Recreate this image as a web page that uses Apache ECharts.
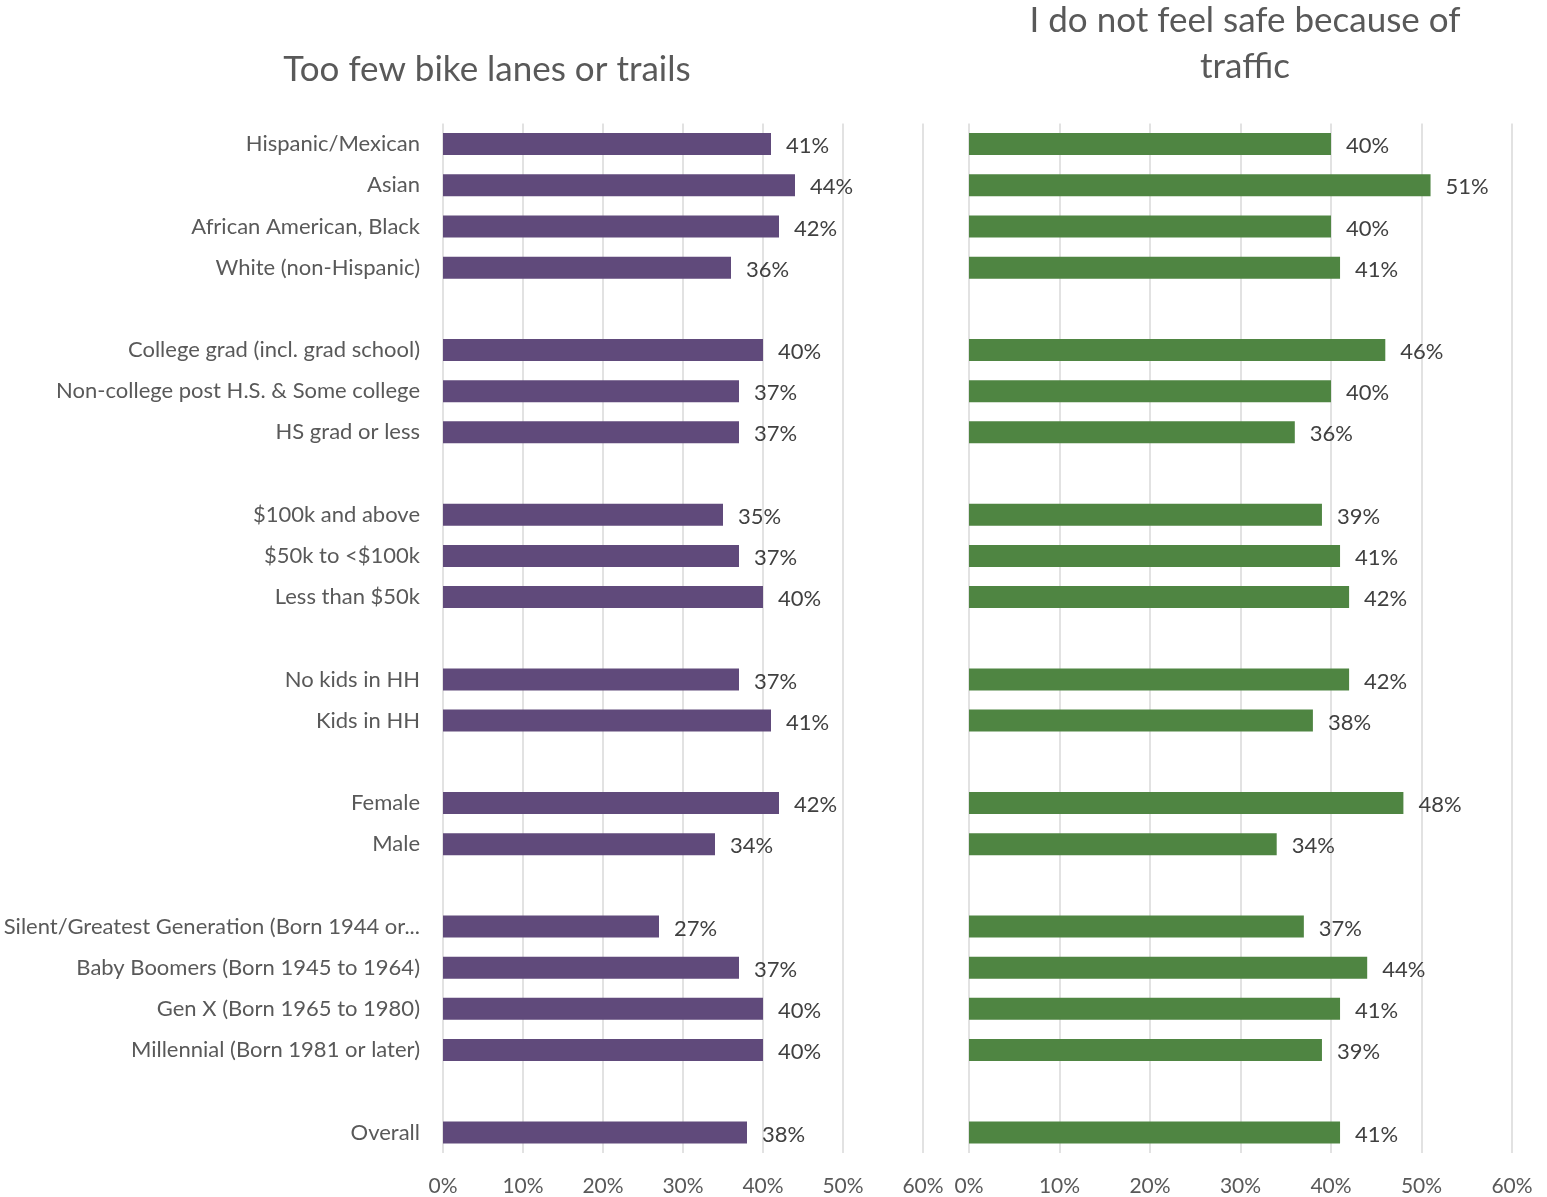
<!DOCTYPE html>
<html>
<head>
<meta charset="utf-8">
<script src="https://cdn.jsdelivr.net/npm/echarts@6/dist/echarts.min.js"></script>
<style>
  html, body { margin: 0; padding: 0; background: #ffffff; }
  #chart { width: 1547px; height: 1197px; }
</style>
</head>
<body>
<div id="chart"></div>
<script>
// Row labels (empty strings are spacer rows between groups)
const categories = [
  'Hispanic/Mexican', 'Asian', 'African American, Black', 'White (non-Hispanic)', '',
  'College grad (incl. grad school)', 'Non-college post H.S. & Some college', 'HS grad or less', '',
  '$100k and above', '$50k to <$100k', 'Less than $50k', '',
  'No kids in HH', 'Kids in HH', '',
  'Female', 'Male', '',
  'Silent/Greatest Generation (Born 1944 or...', 'Baby Boomers (Born 1945 to 1964)', 'Gen X (Born 1965 to 1980)', 'Millennial (Born 1981 or later)', '',
  'Overall'
];

// Percent of respondents citing each barrier
const tooFewBikeLanes = [41, 44, 42, 36, null, 40, 37, 37, null, 35, 37, 40, null, 37, 41, null, 42, 34, null, 27, 37, 40, 40, null, 38];
const unsafeTraffic   = [40, 51, 40, 41, null, 46, 40, 36, null, 39, 41, 42, null, 42, 38, null, 48, 34, null, 37, 44, 41, 39, null, 41];

const panelTitles = ['Too few bike lanes or trails', 'I do not feel safe because of\ntraffic'];
const xTicks = [0, 10, 20, 30, 40, 50, 60];

const FONT = 'Lato';
const TEXT = '#595959';
const LABEL = '#404040';
const GRID_LINE = '#d9d9d9';

const chart = echarts.init(document.getElementById('chart'), null, { renderer: 'canvas' });

function xAxis(gridIndex) {
  return {
    type: 'value', gridIndex,
    min: xTicks[0], max: xTicks[xTicks.length - 1], interval: 10,
    axisLine: { show: false }, axisTick: { show: false },
    splitLine: { show: true, lineStyle: { color: GRID_LINE, width: 1.5 } },
    axisLabel: { formatter: '{value}%', color: TEXT, fontFamily: FONT, fontSize: 21, margin: 23 }
  };
}

function yAxis(gridIndex, showLabels) {
  return {
    type: 'category', gridIndex, data: categories, inverse: true,
    axisLine: { show: false }, axisTick: { show: false },
    axisLabel: { show: showLabels, color: TEXT, fontFamily: FONT, fontSize: 22, margin: 23, interval: 0 }
  };
}

function barSeries(idx, values, color) {
  return {
    type: 'bar', xAxisIndex: idx, yAxisIndex: idx, data: values,
    barWidth: 22,
    itemStyle: { color },
    label: {
      show: true, position: 'right', distance: 15, offset: [0, 2],
      formatter: p => p.value == null ? '' : p.value + '%',
      color: LABEL, fontFamily: FONT, fontSize: 22
    },
    silent: true
  };
}

chart.setOption({
  animation: false,
  title: [
    { text: panelTitles[0], left: 482, top: 47, textAlign: 'center',
      textStyle: { color: TEXT, fontFamily: FONT, fontSize: 35, fontWeight: 'normal' } },
    { text: panelTitles[1], left: 1240, top: -7, textAlign: 'center',
      textStyle: { color: TEXT, fontFamily: FONT, fontSize: 35, fontWeight: 'normal', lineHeight: 46 } }
  ],
  grid: [
    { left: 443, width: 480, top: 123.5, height: 1032.5, containLabel: false },
    { left: 969, width: 543, top: 123.5, height: 1032.5, containLabel: false }
  ],
  xAxis: [xAxis(0), xAxis(1)],
  yAxis: [yAxis(0, true), yAxis(1, false)],
  series: [
    barSeries(0, tooFewBikeLanes, '#604a7b'),
    barSeries(1, unsafeTraffic, '#4f8542')
  ]
});
</script>
</body>
</html>
